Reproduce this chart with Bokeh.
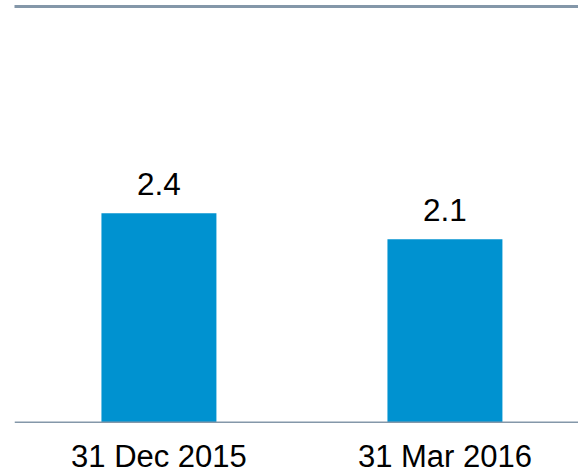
from bokeh.plotting import figure
from bokeh.models import Range1d, FixedTicker, LinearAxis, LabelSet, ColumnDataSource, Span
from bokeh.core.properties import value
from bokeh.embed import file_html
from bokeh.resources import INLINE

categories = ["31 Dec 2015", "31 Mar 2016"]
values = [2.4, 2.1]
value_labels = ["2.4", "2.1"]

BAR = "#0092D0"
GREY = "#8497A9"
FONT = "Liberation Sans"

positions = list(range(len(categories)))
src = ColumnDataSource(dict(x=positions, top=values, label=value_labels,
                            cat=categories, base=[0] * len(categories)))

p = figure(width=578, height=474, output_backend="svg", toolbar_location=None,
           x_range=Range1d(-0.505, 1.467), y_range=Range1d(-0.6, 4.773),
           x_axis_type=None, y_axis_type=None, min_border_left=14, min_border_right=0,
           min_border_top=6, min_border_bottom=0)
p.vbar(x="x", top="top", width=0.402, bottom=0, source=src, color=BAR, line_color=None)

p.xgrid.visible = False
p.ygrid.visible = False
p.outline_line_color = None
p.background_fill_color = "white"
p.border_fill_color = "white"

baseline = Span(location=0, dimension="width", line_color=GREY, line_width=1.5)
p.add_layout(baseline)

top_axis = LinearAxis(ticker=FixedTicker(ticks=[]), axis_line_width=3,
                      axis_line_color=GREY, major_tick_line_color=None,
                      minor_tick_line_color=None, major_label_standoff=0)
p.add_layout(top_axis, "above")

labels = LabelSet(x="x", y="top", text="label", source=src, text_align="center",
                  text_baseline="alphabetic", y_offset=18, text_font=value(FONT),
                  text_font_size=value("31.5px"), text_color=value("black"))
p.add_layout(labels)

cat_labels = LabelSet(x="x", y="base", text="cat", source=src, text_align="center",
                      text_baseline="alphabetic", y_offset=-45, text_font=value(FONT),
                      text_font_size=value("31px"), text_color=value("black"))
p.add_layout(cat_labels)

open("out.html", "w").write(file_html(p, INLINE))
